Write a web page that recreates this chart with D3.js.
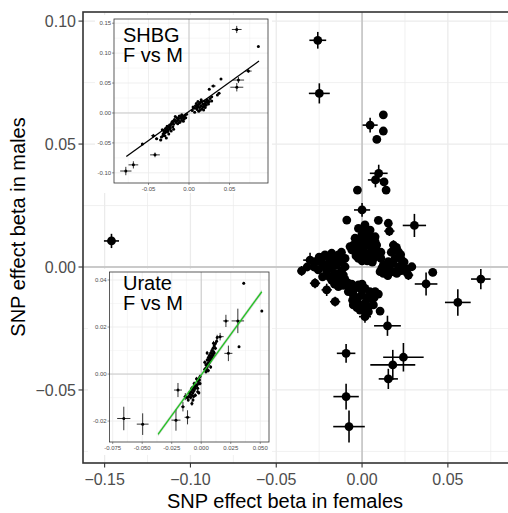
<!DOCTYPE html>
<html>
<head>
<meta charset="utf-8">
<script src="https://cdn.jsdelivr.net/npm/d3@7/dist/d3.min.js"></script>
<style>
html,body{margin:0;padding:0;background:#fff;}
svg{display:block;font-family:"Liberation Sans",Arial,Helvetica,sans-serif;}
</style>
</head>
<body>
<svg id="chart" width="508" height="513"></svg>
<script>
// ---------------- DATA ----------------
const mainXTicks = [-0.15, -0.10, -0.05, 0.00, 0.05];
const mainXTickLabels = ["\u22120.15", "\u22120.10", "\u22120.05", "0.00", "0.05"];
const mainYTicks = [-0.05, 0.00, 0.05, 0.10];
const mainYTickLabels = ["\u22120.05", "0.00", "0.05", "0.10"];
const mainXMinor = [-0.125, -0.075, -0.025, 0.025, 0.075];
const mainYMinor = [-0.075, -0.025, 0.025, 0.075];
const mainXTitle = "SNP effect beta in females";
const mainYTitle = "SNP effect beta in males";

// main points: [beta_female, beta_male, se_female, se_male]
const mainOutliers = [
  [-0.146, 0.0106, 0.0044, 0.0029],
  [-0.0258, 0.0922, 0.0049, 0.0034],
  [-0.0249, 0.0706, 0.0061, 0.0041],
  [0.0124, 0.0619, 0.0010, 0.0010],
  [0.0047, 0.0577, 0.0044, 0.0030],
  [0.0124, 0.0553, 0.0010, 0.0010],
  [0.0086, 0.0519, 0.0010, 0.0010],
  [0.0097, 0.0381, 0.0052, 0.0035],
  [0.0078, 0.0354, 0.0044, 0.0030],
  [0.0128, 0.0346, 0.0010, 0.0010],
  [0.0140, 0.0313, 0.0010, 0.0010],
  [-0.0027, 0.0313, 0.0010, 0.0010],
  [0.0000, 0.0232, 0.0047, 0.0028],
  [-0.0089, 0.0191, 0.0010, 0.0010],
  [0.0095, 0.0190, 0.0015, 0.0010],
  [0.0153, 0.0178, 0.0010, 0.0010],
  [0.0305, 0.0169, 0.0068, 0.0047],
  [0.0159, 0.0146, 0.0030, 0.0020],
  [0.0412, -0.0022, 0.0025, 0.0015],
  [0.0373, -0.0069, 0.0066, 0.0047],
  [0.0692, -0.0049, 0.0057, 0.0041],
  [0.0558, -0.0144, 0.0075, 0.0054],
  [0.0148, -0.0239, 0.0078, 0.0041],
  [-0.0093, -0.0351, 0.0054, 0.0038],
  [0.0241, -0.0367, 0.0118, 0.0058],
  [0.0179, -0.0398, 0.0131, 0.0061],
  [0.0153, -0.0455, 0.0056, 0.0041],
  [-0.0093, -0.0527, 0.0074, 0.0052],
  [-0.0076, -0.0649, 0.0092, 0.0065]
];
const mainCluster = [
  // upper blob
  [-0.0021, 0.0157, 0.0018, 0.0012], [0.0017, 0.0171, 0.0018, 0.0012], [0.0047, 0.0150, 0.0018, 0.0012],
  [-0.0002, 0.0130, 0.0018, 0.0012], [-0.0041, 0.0117, 0.0018, 0.0012], [0.0027, 0.0117, 0.0018, 0.0012],
  [0.0076, 0.0123, 0.0018, 0.0012], [-0.0051, 0.0089, 0.0018, 0.0012], [-0.0012, 0.0089, 0.0018, 0.0012],
  [0.0037, 0.0096, 0.0018, 0.0012], [0.0085, 0.0089, 0.0018, 0.0012], [-0.0041, 0.0062, 0.0018, 0.0012],
  [0.0008, 0.0062, 0.0018, 0.0012], [0.0056, 0.0069, 0.0018, 0.0012], [0.0095, 0.0049, 0.0018, 0.0012],
  [0.0027, 0.0042, 0.0018, 0.0012], [0.0066, 0.0035, 0.0018, 0.0012], [-0.0021, 0.0035, 0.0018, 0.0012],
  [0.0076, 0.0103, 0.0018, 0.0012], [-0.0002, 0.0103, 0.0018, 0.0012], [-0.0070, 0.0083, 0.0018, 0.0012],
  [0.0000, 0.0150, 0.0018, 0.0012], [0.0030, 0.0140, 0.0018, 0.0012], [0.0060, 0.0110, 0.0018, 0.0012],
  [-0.0020, 0.0110, 0.0018, 0.0012], [0.0010, 0.0080, 0.0018, 0.0012], [-0.0030, 0.0075, 0.0018, 0.0012],
  [0.0050, 0.0085, 0.0018, 0.0012], [0.0080, 0.0070, 0.0018, 0.0012], [0.0040, 0.0055, 0.0018, 0.0012],
  [-0.0010, 0.0050, 0.0018, 0.0012], [0.0070, 0.0050, 0.0018, 0.0012], [-0.0060, 0.0070, 0.0018, 0.0012],
  [0.0110, 0.0060, 0.0018, 0.0012], [0.0110, 0.0035, 0.0018, 0.0012], [0.0030, 0.0025, 0.0018, 0.0012],
  [0.0000, 0.0025, 0.0018, 0.0012], [0.0060, 0.0020, 0.0018, 0.0012], [-0.0035, 0.0045, 0.0018, 0.0012],
  [0.0020, 0.0100, 0.0018, 0.0012], [0.0050, 0.0125, 0.0018, 0.0012],
  // right blob
  [0.0183, 0.0089, 0.0025, 0.0020], [0.0212, 0.0062, 0.0018, 0.0012], [0.0192, 0.0035, 0.0018, 0.0012],
  [0.0231, 0.0028, 0.0018, 0.0012], [0.0153, 0.0022, 0.0018, 0.0012], [0.0124, 0.0008, 0.0018, 0.0012],
  [0.0105, -0.0019, 0.0018, 0.0012], [0.0163, -0.0012, 0.0018, 0.0012], [0.0212, 0.0001, 0.0018, 0.0012],
  [0.0251, -0.0005, 0.0018, 0.0012], [0.0270, -0.0033, 0.0028, 0.0020], [0.0202, -0.0026, 0.0018, 0.0012],
  [0.0290, 0.0001, 0.0010, 0.0010], [0.0124, -0.0026, 0.0018, 0.0012],
  [0.0170, 0.0060, 0.0018, 0.0012], [0.0200, 0.0080, 0.0018, 0.0012], [0.0225, 0.0050, 0.0018, 0.0012],
  [0.0180, 0.0015, 0.0018, 0.0012], [0.0140, 0.0005, 0.0018, 0.0012], [0.0230, -0.0015, 0.0018, 0.0012],
  [0.0185, -0.0020, 0.0018, 0.0012], [0.0150, -0.0035, 0.0018, 0.0012], [0.0260, -0.0020, 0.0018, 0.0012],
  [0.0245, 0.0020, 0.0018, 0.0012], [0.0115, -0.0005, 0.0018, 0.0012],
  // left blob
  [-0.0303, 0.0028, 0.0040, 0.0030], [-0.0352, -0.0016, 0.0025, 0.0020], [-0.0274, -0.0066, 0.0030, 0.0020],
  [-0.0206, -0.0093, 0.0030, 0.0025], [-0.0157, -0.0141, 0.0030, 0.0020], [-0.0216, 0.0049, 0.0018, 0.0012],
  [-0.0177, 0.0056, 0.0018, 0.0012], [-0.0138, 0.0049, 0.0018, 0.0012], [-0.0099, 0.0035, 0.0018, 0.0012],
  [-0.0235, 0.0015, 0.0018, 0.0012], [-0.0196, 0.0015, 0.0018, 0.0012], [-0.0148, 0.0008, 0.0018, 0.0012],
  [-0.0099, 0.0001, 0.0018, 0.0012], [-0.0255, -0.0012, 0.0018, 0.0012], [-0.0206, -0.0019, 0.0018, 0.0012],
  [-0.0157, -0.0026, 0.0018, 0.0012], [-0.0109, -0.0033, 0.0018, 0.0012], [-0.0177, -0.0053, 0.0018, 0.0012],
  [-0.0128, -0.0060, 0.0018, 0.0012], [-0.0080, -0.0066, 0.0018, 0.0012], [-0.0138, -0.0080, 0.0018, 0.0012],
  [-0.0274, 0.0022, 0.0018, 0.0012],
  [-0.0230, 0.0040, 0.0018, 0.0012], [-0.0190, 0.0040, 0.0018, 0.0012], [-0.0150, 0.0030, 0.0018, 0.0012],
  [-0.0120, 0.0020, 0.0018, 0.0012], [-0.0170, 0.0025, 0.0018, 0.0012], [-0.0220, 0.0000, 0.0018, 0.0012],
  [-0.0180, -0.0005, 0.0018, 0.0012], [-0.0120, -0.0015, 0.0018, 0.0012], [-0.0280, 0.0000, 0.0018, 0.0012],
  [-0.0230, -0.0040, 0.0018, 0.0012], [-0.0190, -0.0040, 0.0018, 0.0012], [-0.0140, -0.0045, 0.0018, 0.0012],
  [-0.0100, -0.0050, 0.0018, 0.0012], [-0.0160, -0.0070, 0.0018, 0.0012], [-0.0110, -0.0075, 0.0018, 0.0012],
  [-0.0320, 0.0000, 0.0018, 0.0012], [-0.0250, 0.0040, 0.0018, 0.0012], [-0.0120, 0.0060, 0.0018, 0.0012],
  // lower blob
  [-0.0070, -0.0087, 0.0018, 0.0012], [-0.0021, -0.0073, 0.0018, 0.0012], [0.0017, -0.0087, 0.0018, 0.0012],
  [0.0076, -0.0100, 0.0018, 0.0012], [-0.0051, -0.0114, 0.0018, 0.0012], [-0.0002, -0.0114, 0.0018, 0.0012],
  [0.0047, -0.0127, 0.0018, 0.0012], [-0.0031, -0.0141, 0.0018, 0.0012], [0.0017, -0.0148, 0.0018, 0.0012],
  [0.0066, -0.0154, 0.0018, 0.0012], [-0.0012, -0.0175, 0.0018, 0.0012], [0.0037, -0.0182, 0.0018, 0.0012],
  [0.0017, -0.0202, 0.0035, 0.0025], [0.0105, -0.0179, 0.0010, 0.0010], [-0.0051, -0.0154, 0.0018, 0.0012],
  [-0.0080, -0.0100, 0.0018, 0.0012],
  [-0.0045, -0.0090, 0.0018, 0.0012], [0.0000, -0.0095, 0.0018, 0.0012], [0.0045, -0.0100, 0.0018, 0.0012],
  [-0.0025, -0.0125, 0.0018, 0.0012], [0.0025, -0.0125, 0.0018, 0.0012], [0.0070, -0.0125, 0.0018, 0.0012],
  [-0.0055, -0.0135, 0.0018, 0.0012], [0.0040, -0.0160, 0.0018, 0.0012], [-0.0010, -0.0155, 0.0018, 0.0012],
  [0.0020, -0.0175, 0.0018, 0.0012], [-0.0030, -0.0165, 0.0018, 0.0012], [0.0095, -0.0110, 0.0018, 0.0012],
  [0.0000, -0.0070, 0.0018, 0.0012], [-0.0060, -0.0070, 0.0018, 0.0012]
];

// SHBG inset
const shbgLabel = ["SHBG", "F vs M"];
const shbgXTicks = [-0.05, 0.00, 0.05];
const shbgXTickLabels = ["-0.05", "0.00", "0.05"];
const shbgYTicks = [-0.10, -0.05, 0.00, 0.05, 0.10, 0.15];
const shbgYTickLabels = ["-0.10", "-0.05", "0.00", "0.05", "0.10", "0.15"];
const shbgXMinor = [-0.075, -0.025, 0.025, 0.075];
const shbgYMinor = [-0.075, -0.025, 0.025, 0.075, 0.125];
const shbgPoints = [
  [0.0589, 0.1395, 0.0060, 0.0060], [0.0856, 0.1110, 0.0008, 0.0010], [0.0733, 0.0700, 0.0040, 0.0030],
  [0.0610, 0.0550, 0.0070, 0.0050], [0.0590, 0.0430, 0.0080, 0.0070], [0.0395, 0.0567, 0.0008, 0.0010],
  [0.0300, 0.0450, 0.0030, 0.0020], [0.0250, 0.0395, 0.0008, 0.0010], [0.0370, 0.0330, 0.0020, 0.0020],
  [0.0350, 0.0300, 0.0010, 0.0010], [0.0280, 0.0270, 0.0010, 0.0010], [-0.0440, -0.0380, 0.0030, 0.0030],
  [-0.0576, -0.0520, 0.0008, 0.0010], [-0.0420, -0.0700, 0.0060, 0.0040], [-0.0687, -0.0867, 0.0060, 0.0060],
  [-0.0780, -0.0970, 0.0070, 0.0070], [-0.0400, -0.0430, 0.0020, 0.0020],
  // upper cluster
  [0.004, 0.004, 0.001, 0.001], [0.006, 0.008, 0.001, 0.001], [0.008, 0.012, 0.001, 0.001], [0.010, 0.006, 0.001, 0.001],
  [0.011, 0.010, 0.001, 0.001], [0.012, 0.014, 0.001, 0.001], [0.013, 0.009, 0.001, 0.001], [0.014, 0.018, 0.001, 0.001],
  [0.015, 0.012, 0.001, 0.001], [0.016, 0.007, 0.001, 0.001], [0.017, 0.015, 0.001, 0.001], [0.018, 0.011, 0.001, 0.001],
  [0.019, 0.020, 0.001, 0.001], [0.020, 0.016, 0.001, 0.001], [0.021, 0.013, 0.001, 0.001], [0.022, 0.022, 0.001, 0.001],
  [0.023, 0.018, 0.001, 0.001], [0.024, 0.015, 0.001, 0.001], [0.009, 0.016, 0.001, 0.001], [0.012, 0.003, 0.001, 0.001],
  [0.026, 0.024, 0.001, 0.001], [0.015, 0.022, 0.001, 0.001], [0.007, 0.001, 0.001, 0.001], [0.018, 0.005, 0.001, 0.001],
  [0.020, 0.009, 0.001, 0.001], [0.028, 0.020, 0.001, 0.001], [0.011, 0.019, 0.001, 0.001],
  [0.005, 0.010, 0.001, 0.001], [0.009, 0.008, 0.001, 0.001], [0.013, 0.016, 0.001, 0.001], [0.016, 0.019, 0.001, 0.001],
  [0.019, 0.014, 0.001, 0.001], [0.021, 0.018, 0.001, 0.001], [0.017, 0.010, 0.001, 0.001], [0.014, 0.005, 0.001, 0.001],
  [0.010, 0.013, 0.001, 0.001], [0.023, 0.021, 0.001, 0.001], [0.025, 0.019, 0.001, 0.001],
  // middle cluster
  [-0.022, -0.018, 0.001, 0.001], [-0.020, -0.014, 0.001, 0.001], [-0.018, -0.011, 0.001, 0.001], [-0.016, -0.016, 0.001, 0.001],
  [-0.015, -0.008, 0.001, 0.001], [-0.013, -0.012, 0.001, 0.001], [-0.012, -0.005, 0.001, 0.001], [-0.011, -0.015, 0.001, 0.001],
  [-0.010, -0.009, 0.001, 0.001], [-0.009, -0.012, 0.001, 0.001], [-0.008, -0.006, 0.001, 0.001], [-0.006, -0.010, 0.001, 0.001],
  [-0.005, -0.004, 0.001, 0.001], [-0.004, -0.008, 0.001, 0.001], [-0.014, -0.018, 0.001, 0.001], [-0.019, -0.019, 0.001, 0.001],
  [-0.017, -0.006, 0.001, 0.001], [-0.007, -0.014, 0.001, 0.001], [-0.003, -0.002, 0.001, 0.001],
  [-0.021, -0.015, 0.001, 0.001], [-0.017, -0.013, 0.001, 0.001], [-0.013, -0.009, 0.001, 0.001], [-0.010, -0.006, 0.001, 0.001],
  [-0.007, -0.008, 0.001, 0.001], [-0.012, -0.016, 0.001, 0.001], [-0.015, -0.013, 0.001, 0.001], [-0.009, -0.003, 0.001, 0.001],
  [-0.006, -0.006, 0.001, 0.001],
  // lower cluster
  [-0.034, -0.040, 0.002, 0.002], [-0.032, -0.035, 0.001, 0.001], [-0.031, -0.030, 0.001, 0.001], [-0.030, -0.038, 0.002, 0.002],
  [-0.029, -0.026, 0.001, 0.001], [-0.028, -0.032, 0.001, 0.001], [-0.027, -0.022, 0.001, 0.001], [-0.026, -0.028, 0.001, 0.001],
  [-0.025, -0.035, 0.001, 0.001], [-0.024, -0.020, 0.001, 0.001], [-0.023, -0.025, 0.001, 0.001], [-0.022, -0.030, 0.001, 0.001],
  [-0.021, -0.017, 0.001, 0.001], [-0.020, -0.023, 0.001, 0.001], [-0.033, -0.028, 0.001, 0.001], [-0.035, -0.045, 0.002, 0.002],
  [-0.028, -0.042, 0.001, 0.001], [-0.019, -0.027, 0.001, 0.001],
  [-0.031, -0.034, 0.001, 0.001], [-0.029, -0.030, 0.001, 0.001], [-0.027, -0.027, 0.001, 0.001], [-0.025, -0.024, 0.001, 0.001],
  [-0.023, -0.021, 0.001, 0.001], [-0.030, -0.033, 0.001, 0.001], [-0.026, -0.031, 0.001, 0.001], [-0.032, -0.038, 0.001, 0.001],
  [-0.024, -0.027, 0.001, 0.001]
];
const shbgFitX = [-0.0774, 0.0864];
const shbgFitY = [-0.0728, 0.0867];

// Urate inset
const urateLabel = ["Urate", "F vs M"];
const urateXTicks = [-0.075, -0.050, -0.025, 0.000, 0.025, 0.050];
const urateXTickLabels = ["-0.075", "-0.050", "-0.025", "0.000", "0.025", "0.050"];
const urateYTicks = [-0.02, 0.00, 0.02, 0.04];
const urateYTickLabels = ["-0.02", "0.00", "0.02", "0.04"];
const urateXMinor = [-0.0625, -0.0375, -0.0125, 0.0125, 0.0375];
const urateYMinor = [-0.01, 0.01, 0.03];
const uratePoints = [
  [0.0360, 0.0386, 0.0006, 0.0006], [0.0513, 0.0268, 0.0005, 0.0005], [0.0310, 0.0226, 0.0053, 0.0052],
  [0.0209, 0.0226, 0.0025, 0.0026], [0.0320, 0.0116, 0.0005, 0.0005], [0.0230, 0.0088, 0.0034, 0.0033],
  [0.0160, 0.0159, 0.0030, 0.0016], [-0.0197, -0.0068, 0.0034, 0.0030], [-0.0135, -0.0096, 0.0015, 0.0015],
  [-0.0214, -0.0196, 0.0038, 0.0045], [-0.0116, -0.0184, 0.0025, 0.0030], [-0.0656, -0.0189, 0.0056, 0.0050],
  [-0.0496, -0.0213, 0.0050, 0.0046], [-0.0155, -0.0139, 0.0015, 0.0020], [-0.0079, -0.0125, 0.0010, 0.0010],
  // upper cluster
  [0.003, 0.002, 0.0008, 0.0008], [0.004, 0.004, 0.0008, 0.0008], [0.004, 0.001, 0.0008, 0.0008], [0.005, 0.006, 0.0008, 0.0008],
  [0.005, 0.003, 0.0008, 0.0008], [0.006, 0.007, 0.0008, 0.0008], [0.006, 0.004, 0.0008, 0.0008], [0.007, 0.008, 0.0008, 0.0008],
  [0.007, 0.005, 0.0008, 0.0008], [0.008, 0.009, 0.0008, 0.0008], [0.008, 0.006, 0.0008, 0.0008], [0.009, 0.010, 0.0008, 0.0008],
  [0.009, 0.007, 0.0008, 0.0008], [0.010, 0.011, 0.0008, 0.0008], [0.011, 0.012, 0.0008, 0.0008], [0.012, 0.013, 0.0008, 0.0008],
  [0.013, 0.014, 0.0008, 0.0008], [0.006, 0.0015, 0.0008, 0.0008], [0.010, 0.008, 0.0008, 0.0008], [0.003, 0.005, 0.0008, 0.0008],
  [0.008, 0.003, 0.0008, 0.0008], [0.011, 0.009, 0.0008, 0.0008], [0.0135, 0.0155, 0.0010, 0.0012], [0.005, 0.009, 0.0008, 0.0008],
  [0.0104, 0.0131, 0.0010, 0.0010],
  [0.004, 0.0025, 0.0008, 0.0008], [0.0055, 0.0045, 0.0008, 0.0008], [0.0065, 0.006, 0.0008, 0.0008], [0.0075, 0.007, 0.0008, 0.0008],
  [0.0085, 0.0075, 0.0008, 0.0008], [0.0095, 0.0085, 0.0008, 0.0008], [0.0105, 0.0095, 0.0008, 0.0008], [0.012, 0.011, 0.0008, 0.0008],
  [0.005, 0.0015, 0.0008, 0.0008],
  // lower cluster
  [-0.001, -0.001, 0.0008, 0.0008], [-0.002, -0.002, 0.0008, 0.0008], [-0.002, -0.004, 0.0008, 0.0008], [-0.003, -0.003, 0.0008, 0.0008],
  [-0.004, -0.005, 0.0008, 0.0008], [-0.004, -0.002, 0.0008, 0.0008], [-0.005, -0.006, 0.0008, 0.0008], [-0.006, -0.004, 0.0008, 0.0008],
  [-0.006, -0.007, 0.0008, 0.0008], [-0.007, -0.008, 0.0008, 0.0008], [-0.008, -0.006, 0.0008, 0.0008], [-0.008, -0.009, 0.0008, 0.0008],
  [-0.009, -0.010, 0.0008, 0.0008], [-0.010, -0.008, 0.0008, 0.0008], [-0.011, -0.011, 0.0008, 0.0008], [-0.012, -0.010, 0.0008, 0.0008],
  [-0.003, -0.006, 0.0008, 0.0008], [-0.001, -0.004, 0.0008, 0.0008], [-0.005, -0.009, 0.0008, 0.0008], [-0.007, -0.011, 0.0008, 0.0008],
  [-0.002, -0.008, 0.0008, 0.0008],
  [-0.0015, -0.0025, 0.0008, 0.0008], [-0.0035, -0.0045, 0.0008, 0.0008], [-0.0055, -0.005, 0.0008, 0.0008], [-0.0065, -0.0055, 0.0008, 0.0008],
  [-0.0075, -0.0065, 0.0008, 0.0008], [-0.0085, -0.0075, 0.0008, 0.0008], [-0.0095, -0.0085, 0.0008, 0.0008], [-0.0105, -0.0095, 0.0008, 0.0008],
  [-0.003, -0.0075, 0.0008, 0.0008], [-0.0065, -0.0095, 0.0008, 0.0008]
];
const urateFitX = [-0.0366, 0.0513];
const urateFitY = [-0.0257, 0.0350];
const urateFitSE = [0.0009, 0.0010];

// ---------------- DRAW ----------------
const svg = d3.select("#chart");

const x = d3.scaleLinear().domain([-0.1626, 0.0862]).range([83, 510]);
const y = d3.scaleLinear().domain([-0.0797, 0.1037]).range([463, 12]);

svg.append("defs").append("clipPath").attr("id", "mainclip")
  .append("rect").attr("x", 83).attr("y", 12).attr("width", 427).attr("height", 451);

const main = svg.append("g").attr("clip-path", "url(#mainclip)");
main.append("rect").attr("x", 83).attr("y", 12).attr("width", 427).attr("height", 451).attr("fill", "#fff");

main.selectAll(".gxm").data(mainXMinor).join("line")
  .attr("x1", d => x(d)).attr("x2", d => x(d)).attr("y1", 12).attr("y2", 463)
  .attr("stroke", "#EBEBEB").attr("stroke-width", 0.7);
main.selectAll(".gym").data(mainYMinor).join("line")
  .attr("y1", d => y(d)).attr("y2", d => y(d)).attr("x1", 83).attr("x2", 510)
  .attr("stroke", "#EBEBEB").attr("stroke-width", 0.7);
main.selectAll(".gx").data(mainXTicks).join("line")
  .attr("x1", d => x(d)).attr("x2", d => x(d)).attr("y1", 12).attr("y2", 463)
  .attr("stroke", "#EBEBEB").attr("stroke-width", 1.3);
main.selectAll(".gy").data(mainYTicks).join("line")
  .attr("y1", d => y(d)).attr("y2", d => y(d)).attr("x1", 83).attr("x2", 510)
  .attr("stroke", "#EBEBEB").attr("stroke-width", 1.3);
main.append("line").attr("x1", x(0)).attr("x2", x(0)).attr("y1", 12).attr("y2", 463)
  .attr("stroke", "#BEBEBE").attr("stroke-width", 1.4);
main.append("line").attr("y1", y(0)).attr("y2", y(0)).attr("x1", 83).attr("x2", 510)
  .attr("stroke", "#BEBEBE").attr("stroke-width", 1.4);

function drawPoints(g, data, sx, sy, r, sw) {
  const gg = g.append("g");
  gg.selectAll("line.h").data(data).join("line")
    .attr("x1", d => sx(d[0] - d[2])).attr("x2", d => sx(d[0] + d[2]))
    .attr("y1", d => sy(d[1])).attr("y2", d => sy(d[1]))
    .attr("stroke", "#000").attr("stroke-width", sw);
  gg.selectAll("line.v").data(data).join("line")
    .attr("x1", d => sx(d[0])).attr("x2", d => sx(d[0]))
    .attr("y1", d => sy(d[1] - d[3])).attr("y2", d => sy(d[1] + d[3]))
    .attr("stroke", "#000").attr("stroke-width", sw);
  gg.selectAll("circle").data(data).join("circle")
    .attr("cx", d => sx(d[0])).attr("cy", d => sy(d[1])).attr("r", r).attr("fill", "#000");
}
drawPoints(main, mainCluster.concat(mainOutliers), x, y, 4.4, 1.6);

svg.append("rect").attr("x", 83).attr("y", 12).attr("width", 440).attr("height", 451)
  .attr("fill", "none").attr("stroke", "#333").attr("stroke-width", 1.6);

svg.selectAll(".tx").data(mainXTicks).join("line")
  .attr("x1", d => x(d)).attr("x2", d => x(d)).attr("y1", 463).attr("y2", 467.5)
  .attr("stroke", "#333").attr("stroke-width", 1.1);
svg.selectAll(".ty").data(mainYTicks).join("line")
  .attr("y1", d => y(d)).attr("y2", d => y(d)).attr("x1", 78.5).attr("x2", 83)
  .attr("stroke", "#333").attr("stroke-width", 1.1);
svg.selectAll(".txl").data(mainXTicks).join("text")
  .attr("x", d => x(d)).attr("y", 485).attr("text-anchor", "middle")
  .attr("font-size", 16).attr("fill", "#4D4D4D").text((d, i) => mainXTickLabels[i]);
svg.selectAll(".tyl").data(mainYTicks).join("text")
  .attr("x", 76).attr("y", d => y(d) + 5.7).attr("text-anchor", "end")
  .attr("font-size", 16).attr("fill", "#4D4D4D").text((d, i) => mainYTickLabels[i]);
svg.append("text").attr("x", 285).attr("y", 508).attr("text-anchor", "middle")
  .attr("font-size", 20).attr("fill", "#000").text(mainXTitle);
svg.append("text").attr("transform", "translate(25,227) rotate(-90)").attr("text-anchor", "middle")
  .attr("font-size", 20).attr("fill", "#000").text(mainYTitle);

function inset(cfg) {
  const g = svg.append("g");
  g.append("rect").attr("x", cfg.bg[0]).attr("y", cfg.bg[1]).attr("width", cfg.bg[2]).attr("height", cfg.bg[3]).attr("fill", "#fff");
  const sx = d3.scaleLinear().domain(cfg.xd).range([cfg.box[0], cfg.box[2]]);
  const sy = d3.scaleLinear().domain(cfg.yd).range([cfg.box[3], cfg.box[1]]);
  const id = "clip" + cfg.name;
  svg.select("defs").append("clipPath").attr("id", id).append("rect")
    .attr("x", cfg.box[0]).attr("y", cfg.box[1]).attr("width", cfg.box[2] - cfg.box[0]).attr("height", cfg.box[3] - cfg.box[1]);
  const p = g.append("g").attr("clip-path", `url(#${id})`);
  p.selectAll(".a").data(cfg.xMinor).join("line").attr("x1", d => sx(d)).attr("x2", d => sx(d))
    .attr("y1", cfg.box[1]).attr("y2", cfg.box[3]).attr("stroke", "#EBEBEB").attr("stroke-width", 0.4);
  p.selectAll(".b").data(cfg.yMinor).join("line").attr("y1", d => sy(d)).attr("y2", d => sy(d))
    .attr("x1", cfg.box[0]).attr("x2", cfg.box[2]).attr("stroke", "#EBEBEB").attr("stroke-width", 0.4);
  p.selectAll(".c").data(cfg.xTicks).join("line").attr("x1", d => sx(d)).attr("x2", d => sx(d))
    .attr("y1", cfg.box[1]).attr("y2", cfg.box[3]).attr("stroke", "#EBEBEB").attr("stroke-width", 0.8);
  p.selectAll(".d").data(cfg.yTicks).join("line").attr("y1", d => sy(d)).attr("y2", d => sy(d))
    .attr("x1", cfg.box[0]).attr("x2", cfg.box[2]).attr("stroke", "#EBEBEB").attr("stroke-width", 0.8);
  p.append("line").attr("x1", sx(0)).attr("x2", sx(0)).attr("y1", cfg.box[1]).attr("y2", cfg.box[3])
    .attr("stroke", "#BEBEBE").attr("stroke-width", 0.8);
  p.append("line").attr("y1", sy(0)).attr("y2", sy(0)).attr("x1", cfg.box[0]).attr("x2", cfg.box[2])
    .attr("stroke", "#BEBEBE").attr("stroke-width", 0.8);
  if (cfg.band) {
    const pts = cfg.fitX.map((xv, i) => [xv, cfg.fitY[i], cfg.band[i]]);
    const area = d3.area().x(d => sx(d[0])).y0(d => sy(d[1] - d[2])).y1(d => sy(d[1] + d[2]));
    p.append("path").attr("d", area(pts)).attr("fill", "#BDBDBD").attr("opacity", 0.6);
  }
  drawPoints(p, cfg.points, sx, sy, 1.5, 0.8);
  const fit = cfg.fitX.map((xv, i) => [xv, cfg.fitY[i]]);
  p.append("path").attr("d", d3.line().x(d => sx(d[0])).y(d => sy(d[1]))(fit))
    .attr("fill", "none").attr("stroke", cfg.fitColor).attr("stroke-width", 1.3);
  g.append("rect").attr("x", cfg.box[0]).attr("y", cfg.box[1]).attr("width", cfg.box[2] - cfg.box[0]).attr("height", cfg.box[3] - cfg.box[1])
    .attr("fill", "none").attr("stroke", "#333").attr("stroke-width", 0.8);
  g.selectAll(".e").data(cfg.xTicks).join("line").attr("x1", d => sx(d)).attr("x2", d => sx(d))
    .attr("y1", cfg.box[3]).attr("y2", cfg.box[3] + 2).attr("stroke", "#333").attr("stroke-width", 0.5);
  g.selectAll(".f").data(cfg.yTicks).join("line").attr("y1", d => sy(d)).attr("y2", d => sy(d))
    .attr("x1", cfg.box[0] - 2).attr("x2", cfg.box[0]).attr("stroke", "#333").attr("stroke-width", 0.5);
  g.selectAll(".g").data(cfg.xTicks).join("text").attr("x", d => sx(d)).attr("y", cfg.box[3] + 8)
    .attr("text-anchor", "middle").attr("font-size", 6).attr("fill", "#4D4D4D").text((d, i) => cfg.xLabels[i]);
  g.selectAll(".h").data(cfg.yTicks).join("text").attr("x", cfg.box[0] - 2.8).attr("y", d => sy(d) + 2.1)
    .attr("text-anchor", "end").attr("font-size", 6).attr("fill", "#4D4D4D").text((d, i) => cfg.yLabels[i]);
  g.selectAll(".lab").data(cfg.label).join("text").attr("x", cfg.labelPos[0]).attr("y", (d, i) => cfg.labelPos[1] + i * 20)
    .attr("font-size", 20).attr("fill", "#000").text(d => d);
}

inset({
  name: "shbg", bg: [95, 15, 177, 178], box: [114, 19, 268, 183],
  xd: [-0.0926, 0.0975], yd: [-0.117, 0.157],
  xTicks: shbgXTicks, xLabels: shbgXTickLabels, yTicks: shbgYTicks, yLabels: shbgYTickLabels,
  xMinor: shbgXMinor, yMinor: shbgYMinor, points: shbgPoints,
  fitX: shbgFitX, fitY: shbgFitY, fitColor: "#000", band: null,
  label: shbgLabel, labelPos: [123, 41.7]
});
inset({
  name: "urate", bg: [88, 269, 184, 186], box: [109.5, 272, 269, 442],
  xd: [-0.0777, 0.0574], yd: [-0.0289, 0.0434],
  xTicks: urateXTicks, xLabels: urateXTickLabels, yTicks: urateYTicks, yLabels: urateYTickLabels,
  xMinor: urateXMinor, yMinor: urateYMinor, points: uratePoints,
  fitX: urateFitX, fitY: urateFitY, fitColor: "#22C422", band: urateFitSE,
  label: urateLabel, labelPos: [123, 290]
});
</script>
</body>
</html>
